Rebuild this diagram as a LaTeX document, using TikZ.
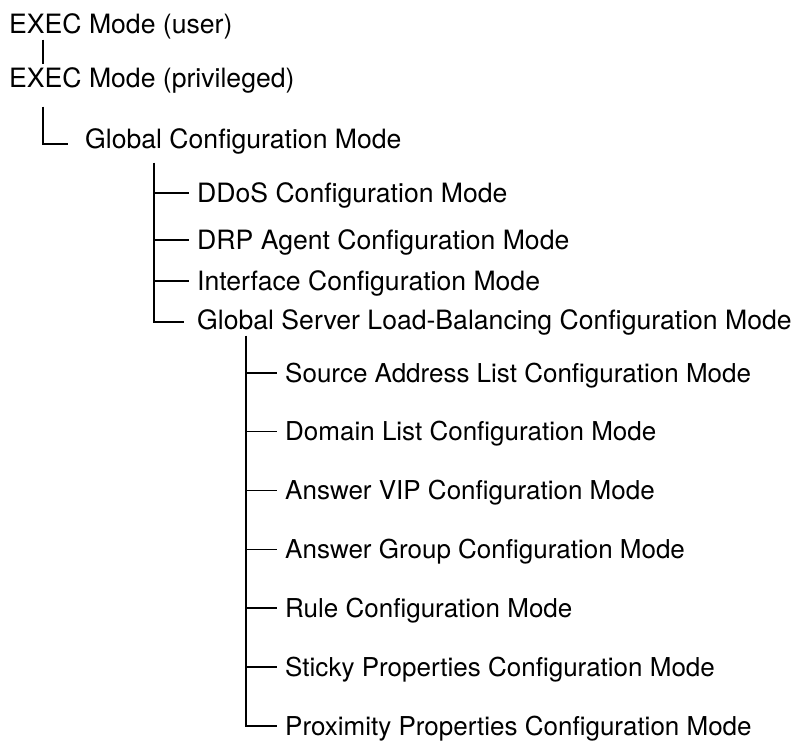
\documentclass[tikz,border=0pt]{standalone}
\usepackage{fontspec}
\setmainfont{TeX Gyre Heros}
\usetikzlibrary{calc}
\tikzset{
  modetext/.style={anchor=west, inner sep=0pt, text height=19pt, text depth=0pt, font=\fontsize{26.6}{31}\selectfont}
}
\tikzset{
  subtext/.style={modetext, text height=18.7pt, font=\fontsize{26}{31}\selectfont}
}
\tikzset{
  treeline/.style={line width=1.7pt}
}

\begin{document}
\begin{tikzpicture}[x=1pt,y=-1pt]
  \useasboundingbox (0,0) rectangle (795,742);
  \node[modetext] (user) at (9,24) {EXEC Mode (user)};
  \node[modetext] (priv) at (9,78) {EXEC Mode (privileged)};
  \node[modetext] (glob) at (85,139) {Global Configuration Mode};
  % modes under global config
  \foreach \n/\y/\txt in {ddos/193/DDoS Configuration Mode, drp/240/DRP Agent Configuration Mode,
      intf/281/Interface Configuration Mode, gslb/320/Global Server Load-Balancing Configuration Mode} {
    \node[modetext] (\n) at (197,\y) {\txt};
  }
  % modes under gslb
  \foreach \n/\txt [count=\k from 0] in {src/Source Address List, dom/Domain List, vip/Answer VIP,
      grp/Answer Group, rule/Rule, sticky/Sticky Properties, prox/Proximity Properties} {
    \node[subtext] (\n) at (285,372.7+58.9*\k) {\txt\ Configuration Mode};
  }
  % user -> privileged -> global
  \draw[treeline] ([xshift=34pt,yshift=-6pt]user.south west) -- ([xshift=34pt,yshift=4pt]priv.north west);
  \draw[treeline] ([xshift=34pt,yshift=-19pt]priv.south west) |- ([xshift=-17pt,yshift=-5pt]glob.west);
  % trunk under global config
  \coordinate (gtrunk) at ([xshift=69pt,yshift=-14pt]glob.south west);
  \draw[treeline] (gtrunk) |- ([xshift=-13pt,yshift=-2pt]gslb.west);
  \foreach \n in {ddos,drp,intf}
    \draw[treeline] (\n.west -| gtrunk) -- ([xshift=-8pt]\n.west);
  % trunk under gslb
  \coordinate (strunk) at ([xshift=49pt,yshift=-6pt]gslb.south west);
  \draw[treeline] (strunk) |- ([xshift=-8pt]prox.west);
  \foreach \n in {src,dom,vip,grp,rule,sticky}
    \draw[treeline] (\n.west -| strunk) -- ([xshift=-8pt]\n.west);
\end{tikzpicture}
\end{document}
